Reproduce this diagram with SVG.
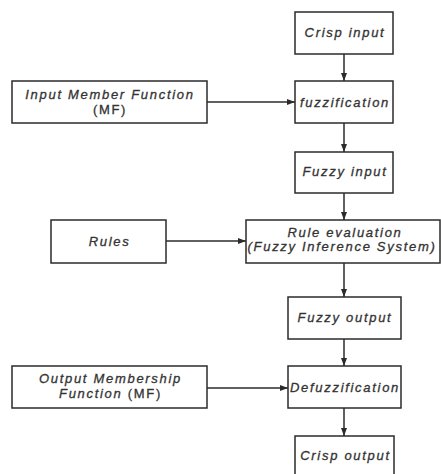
<svg xmlns="http://www.w3.org/2000/svg" width="441" height="474" viewBox="0 0 441 474">
<style>
.box{fill:#fff;stroke:#2b2b2b;stroke-width:1.5}
.t{font-family:"Liberation Sans",Arial,sans-serif;font-style:italic;font-size:13px;letter-spacing:1.7px;fill:#333;stroke:#333;stroke-width:0.3;text-anchor:middle}
.u{font-style:normal}
.c{stroke:#2b2b2b;stroke-width:1.5;fill:none;marker-end:url(#ah)}
</style>
<defs>
<marker id="ah" viewBox="0 0 8 6" refX="8" refY="3" markerWidth="8" markerHeight="6" markerUnits="userSpaceOnUse" orient="auto">
<path d="M0,0 L8,3 L0,6 Z" fill="#2b2b2b"/>
</marker>
</defs>
<rect width="441" height="474" fill="#fff"/>
<g id="connectors">
<line class="c" x1="344" y1="54" x2="344" y2="81"/>
<line class="c" x1="344" y1="123" x2="344" y2="152"/>
<line class="c" x1="344" y1="193" x2="344" y2="220"/>
<line class="c" x1="344" y1="263" x2="344" y2="297"/>
<line class="c" x1="344" y1="339" x2="344" y2="366"/>
<line class="c" x1="344" y1="408" x2="344" y2="436"/>
<line class="c" x1="207" y1="102" x2="295" y2="102"/>
<line class="c" x1="166" y1="241" x2="246" y2="241"/>
<line class="c" x1="207" y1="388" x2="288" y2="388"/>
</g>
<g id="crisp-input"><rect class="box" x="295" y="12" width="98" height="42"/><text class="t" x="345" y="37">Crisp input</text></g>
<g id="fuzzification"><rect class="box" x="295" y="81" width="98" height="42"/><text class="t" x="345" y="106.5">fuzzification</text></g>
<g id="input-mf"><rect class="box" x="12" y="81" width="195" height="42"/><text class="t" x="110" y="99">Input Member Function</text><text class="t u" x="110" y="113.5">(MF)</text></g>
<g id="fuzzy-input"><rect class="box" x="295" y="152" width="98" height="41"/><text class="t" x="345" y="175.5">Fuzzy input</text></g>
<g id="rules"><rect class="box" x="51" y="220" width="115" height="43"/><text class="t" x="109.5" y="245.5">Rules</text></g>
<g id="rule-evaluation"><rect class="box" x="246" y="220" width="194" height="43"/><text class="t" x="345" y="236.5">Rule evaluation</text><text class="t" x="342" y="251">(Fuzzy Inference System)</text></g>
<g id="fuzzy-output"><rect class="box" x="288" y="297" width="113" height="42"/><text class="t" x="345" y="322">Fuzzy output</text></g>
<g id="output-mf"><rect class="box" x="12" y="366" width="195" height="42"/><text class="t" x="110.5" y="383">Output Membership</text><text class="t" x="110.5" y="397.5">Function <tspan class="u">(MF)</tspan></text></g>
<g id="defuzzification"><rect class="box" x="288" y="366" width="113" height="42"/><text class="t" x="345" y="391.5">Defuzzification</text></g>
<g id="crisp-output"><rect class="box" x="295" y="436" width="99" height="50"/><text class="t" x="345.5" y="460">Crisp output</text></g>
</svg>
